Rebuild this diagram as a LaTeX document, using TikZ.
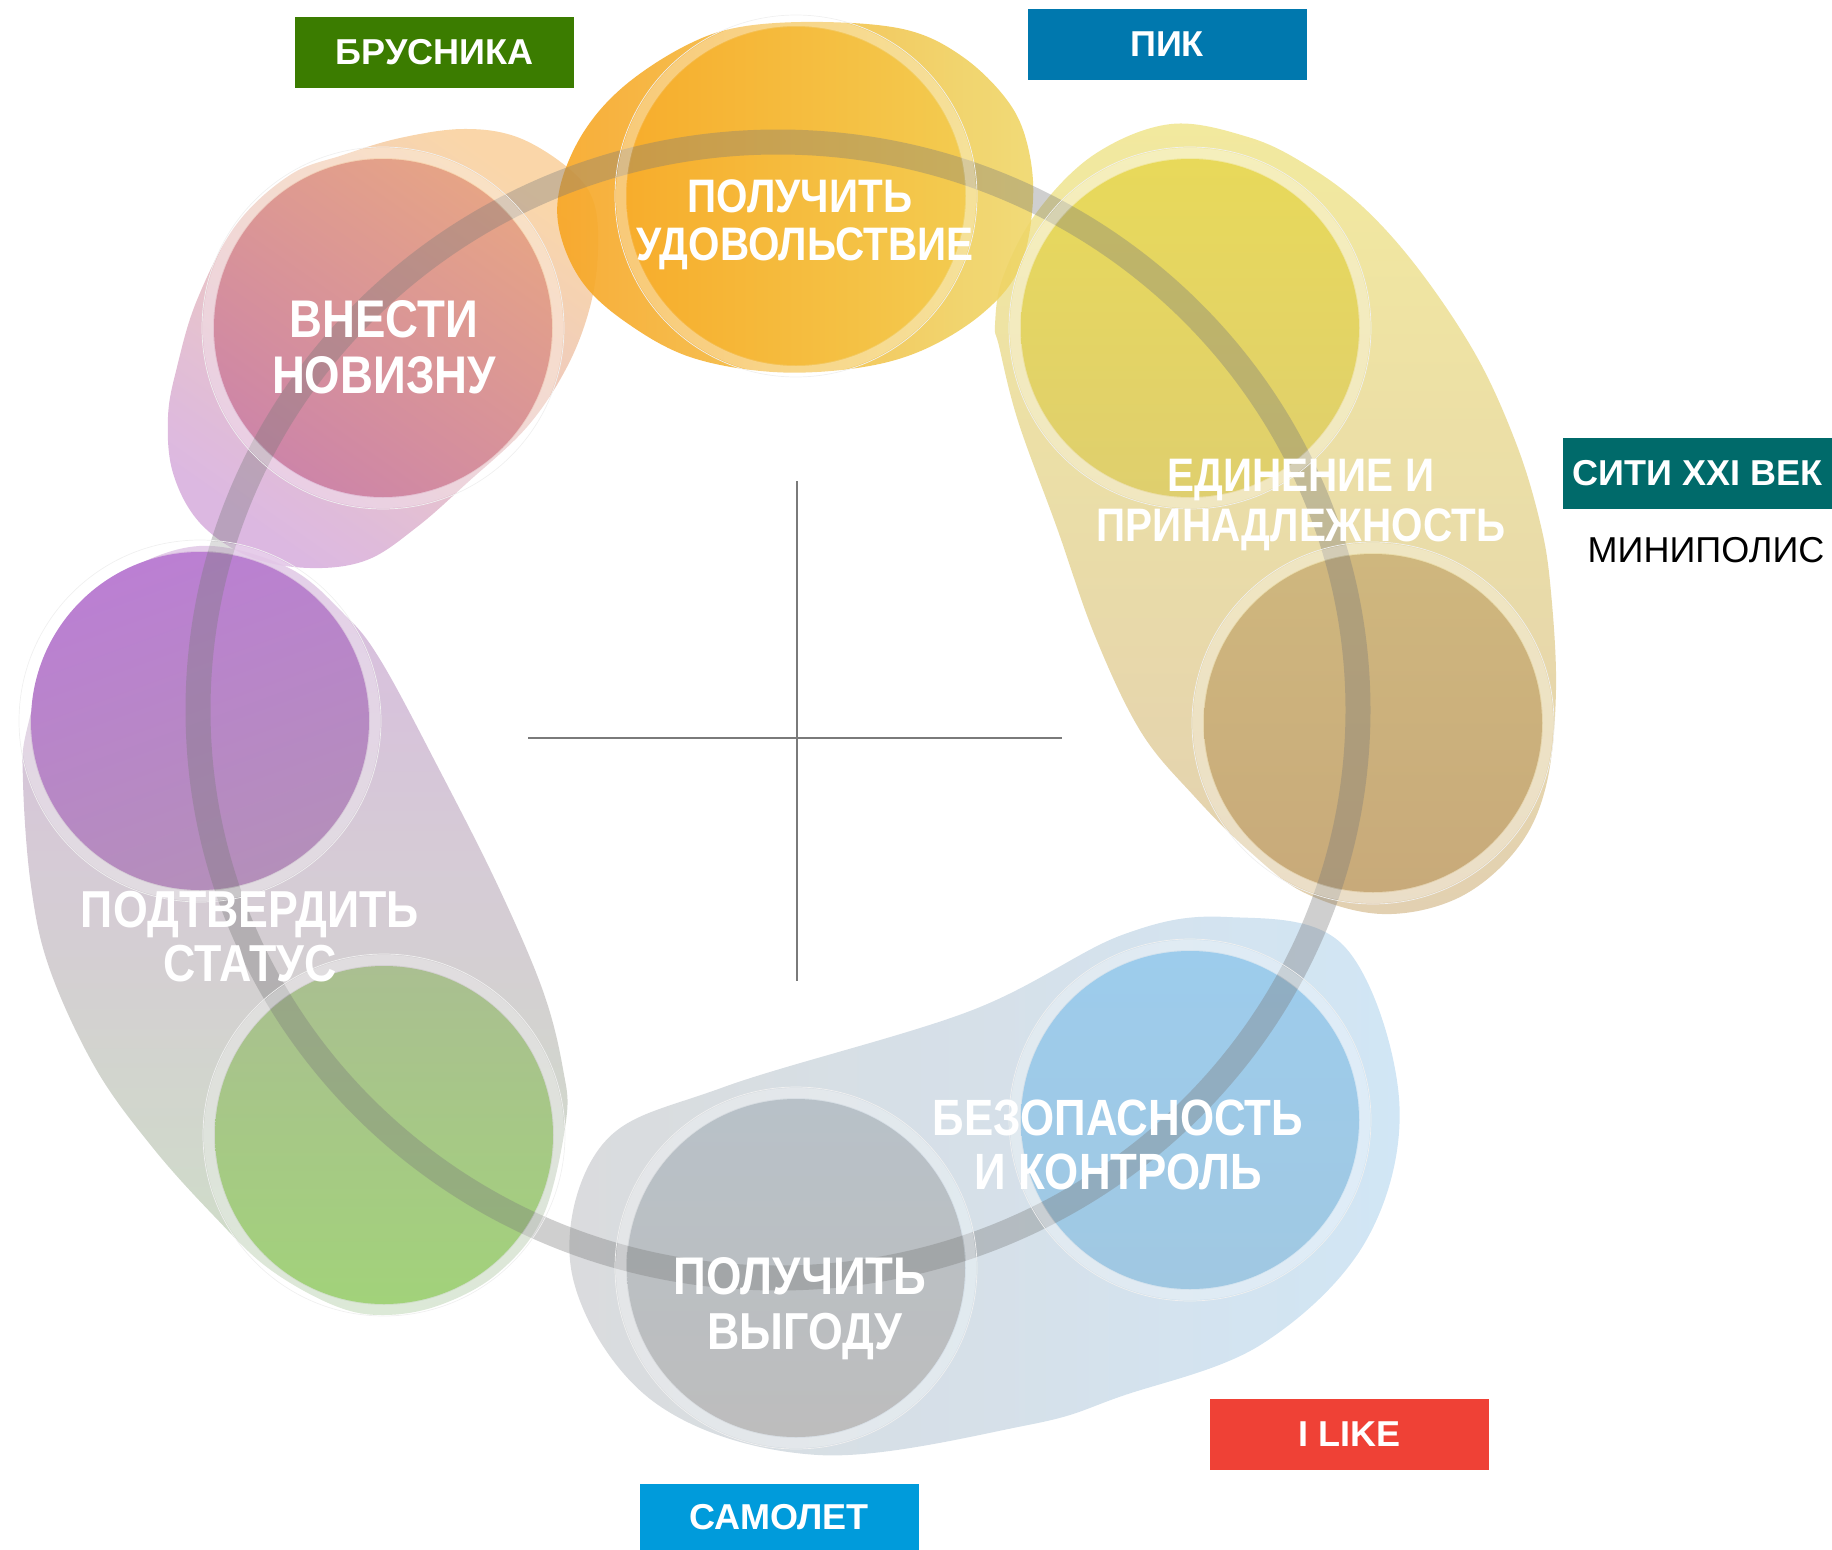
\documentclass[tikz,border=0pt]{standalone}
\usepackage{fontspec}
\setmainfont{Liberation Sans}
\newfontfamily\lblfont[FakeStretch=0.86]{Liberation Sans}
\definecolor{brusc}{HTML}{3B7C00}
\definecolor{pikc}{HTML}{0078AE}
\definecolor{sitic}{HTML}{006A6A}
\definecolor{likec}{HTML}{EF4136}
\definecolor{samc}{HTML}{009BDB}
\definecolor{ringc}{HTML}{7A7A7A}
\definecolor{axisc}{HTML}{7A7A7A}
% blobs
\definecolor{bTopL}{HTML}{F7A523}
\definecolor{bTopR}{HTML}{EFD769}
\definecolor{bPinkA}{HTML}{F9D2A0}
\definecolor{bPinkB}{HTML}{D8B0DE}
\definecolor{bRightA}{HTML}{F1E794}
\definecolor{bRightB}{HTML}{DFCBA8}
\definecolor{bBotL}{HTML}{D6D7D9}
\definecolor{bBotR}{HTML}{CCE3F4}
\definecolor{bLeftA}{HTML}{D6B5DD}
\definecolor{bLeftB}{HTML}{C9DCC0}
% circles
\definecolor{cTL}{HTML}{F7AD2C}
\definecolor{cTR}{HTML}{F3CB50}
\definecolor{cPA}{HTML}{E6A486}
\definecolor{cPB}{HTML}{CD85A8}
\definecolor{cYA}{HTML}{E8D95A}
\definecolor{cYB}{HTML}{DFCF6E}
\definecolor{cBA}{HTML}{CFB77E}
\definecolor{cBB}{HTML}{C8AA7A}
\definecolor{cPuA}{HTML}{BB7FD3}
\definecolor{cPuB}{HTML}{B48FBA}
\definecolor{cGA}{HTML}{AABF91}
\definecolor{cGB}{HTML}{A2D27A}
\definecolor{cBlA}{HTML}{9DCCEC}
\definecolor{cBlB}{HTML}{A0C8E2}
\definecolor{cGrA}{HTML}{B8C1C8}
\definecolor{cGrB}{HTML}{BDBDBD}
\begin{document}
\begin{tikzpicture}[x=1pt,y=-1pt,
  blob/.style={fill opacity=0.9},
  bubble/.style={circle, minimum size=338pt, inner sep=0pt, draw=none},
  halo/.style={draw=white, line width=10pt, draw opacity=0.3},
  halotwo/.style={draw=black!6, line width=0.7pt},
  ringline/.style={draw=ringc, line width=25pt, draw opacity=0.36},
  lbl/.style={text=white, font=\lblfont\bfseries\fontsize{#1}{#1}\selectfont, anchor=base, inner sep=0pt},
  brand/.style={inner sep=0pt, text=white, minimum width=279pt, minimum height=71pt, font=\bfseries\fontsize{36}{36}\selectfont},
  axisline/.style={draw=axisc, line width=2.4pt}
]
\useasboundingbox (0,0) rectangle (1832,1550);

% ---------- blobs ----------
\shade[blob, top color=bLeftA, bottom color=bLeftB] plot[smooth cycle, tension=0.6] coordinates {
 (199,546) (115,578) (57,640) (27,729) (23,782) (31,886) (50,970) (96,1069) (153,1148) (214,1216) (268,1268) (333,1305) (383,1315) (440,1305) (498,1273) (543,1216) (566,1121) (563,1069) (543,991) (498,886) (440,771) (381,661) (344,614) (287,567)};

\shade[blob, top color=bPinkA, bottom color=bPinkB, shading angle=-35] plot[smooth cycle, tension=0.6] coordinates {
 (463,129) (517,137) (567,167) (593,200) (598,250) (590,307) (567,367) (527,427) (467,483) (417,527) (367,560) (310,568) (250,557) (200,523) (173,473) (168,417) (177,367) (197,300) (236,225) (290,175) (343,155) (400,138)};

\shade[blob, top color=bRightA, bottom color=bRightB] plot[smooth cycle, tension=0.6] coordinates {
 (1171,124) (1095,154) (1037,212) (1003,277) (995,325) (999,346) (1018,421) (1057,528) (1095,636) (1141,732) (1194,796) (1248,850) (1305,893) (1382,914) (1458,898) (1516,850) (1546,786) (1556,689) (1550,582) (1539,518) (1516,443) (1477,357) (1420,271) (1363,207) (1305,164) (1248,137)};

\shade[blob, left color=bBotL, right color=bBotR] plot[smooth cycle, tension=0.6] coordinates {
 (602,1145) (724,1087) (970,1011) (1122,935) (1227,917) (1344,946) (1399,1098) (1367,1239) (1262,1344) (1122,1396) (1028,1425) (818,1455) (654,1402) (572,1274)};

\shade[blob, left color=bTopL, right color=bTopR] plot[smooth cycle, tension=0.6] coordinates {
 (560,187) (583,133) (623,87) (683,47) (740,27) (823,22) (907,30) (963,57) (1007,100) (1027,143) (1033,200) (1020,267) (983,313) (923,350) (857,368) (773,372) (690,357) (627,323) (583,283) (560,233)};

% ---------- circles ----------
\node[bubble, left color=cTL, right color=cTR] (cT) at (796,196) {};
\node[bubble, top color=cPA, bottom color=cPB, shading angle=-35] (cP) at (383,328) {};
\node[bubble, top color=cYA, bottom color=cYB] (cY) at (1190,328) {};
\node[bubble, top color=cBA, bottom color=cBB] (cB) at (1373,723) {};
\node[bubble, top color=cPuA, bottom color=cPuB, shading angle=20] (cPu) at (200,721) {};
\node[bubble, top color=cGA, bottom color=cGB] (cG) at (384,1135) {};
\node[bubble, top color=cBlA, bottom color=cBlB] (cBl) at (1190,1120) {};
\node[bubble, top color=cGrA, bottom color=cGrB] (cGr) at (796,1268) {};

% ---------- ring ----------
\draw[ringline] (778,710) ellipse [x radius=580, y radius=568];

% ---------- halos ----------
\foreach \c in {cT,cP,cY,cB,cPu,cG,cBl,cGr}{
  \draw[halo] (\c.center) circle [radius=175];
  \draw[halotwo] (\c.center) circle [radius=181];
}

% ---------- cross ----------
\coordinate (vTop) at (797,481);
\coordinate (vBot) at (797,981);
\coordinate (hL) at (528,738);
\coordinate (hR) at (1062,738);
\draw[axisline] (vTop) -- (vBot);
\draw[axisline] (hL) -- (hR);

% ---------- labels ----------
\node[lbl=47] (lT1) at (800,212) {ПОЛУЧИТЬ};
\node[lbl=47] (lT2) at (805,260) {УДОВОЛЬСТВИЕ};
\node[lbl=53] (lP1) at (384,337) {ВНЕСТИ};
\node[lbl=53] (lP2) at (384,393) {НОВИЗНУ};
\node[lbl=47] (lY1) at (1301,491) {ЕДИНЕНИЕ И};
\node[lbl=47] (lY2) at (1301,541) {ПРИНАДЛЕЖНОСТЬ};
\node[lbl=52] (lPu1) at (250,927) {ПОДТВЕРДИТЬ};
\node[lbl=52] (lPu2) at (250,981) {СТАТУС};
\node[lbl=51] (lBl1) at (1118,1135) {БЕЗОПАСНОСТЬ};
\node[lbl=51] (lBl2) at (1118,1189) {И КОНТРОЛЬ};
\node[lbl=53] (lGr1) at (800,1294) {ПОЛУЧИТЬ};
\node[lbl=52] (lGr2) at (805,1349) {ВЫГОДУ};

% ---------- brand boxes ----------
\node[brand, fill=brusc] (brus) at (434.5,52.5) {БРУСНИКА};
\node[brand, fill=pikc] (pik) at (1167,44) {ПИК};
\node[brand, fill=sitic, minimum width=269pt] (siti) at (1697.5,473.5) {СИТИ XXI ВЕК};
\node[anchor=base, inner sep=0pt, text=black, font=\fontsize{36}{36}\selectfont] (mini) at (1706,562) {МИНИПОЛИС};
\node[brand, fill=likec] (ilike) at (1349.5,1434) {I LIKE};
\node[brand, fill=samc, minimum height=66pt] (samo) at (779,1517) {САМОЛЕТ};
\end{tikzpicture}
\end{document}
